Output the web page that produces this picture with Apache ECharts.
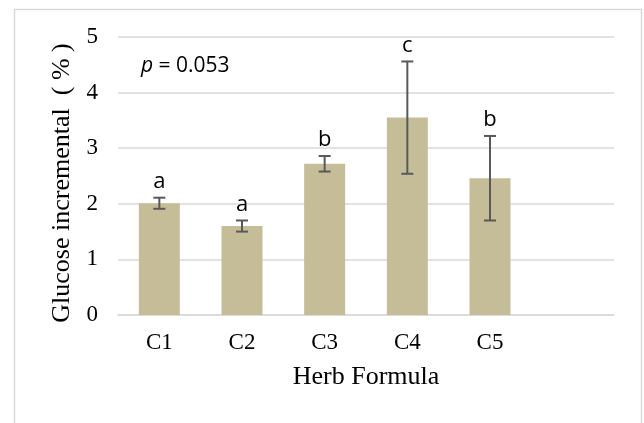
<!DOCTYPE html>
<html>
<head>
<meta charset="utf-8">
<script src="https://cdn.jsdelivr.net/npm/echarts@6/dist/echarts.min.js"></script>
<style>html,body{margin:0;padding:0;background:#fff;}#c{width:644px;height:423px;}</style>
</head>
<body>
<div id="c"></div>
<script>
var categories = ['C1', 'C2', 'C3', 'C4', 'C5', ''];
var means = [2.01, 1.60, 2.72, 3.55, 2.46];
var errors = [0.10, 0.10, 0.14, 1.01, 0.76];
var letters = ['a', 'a', 'b', 'c', 'b'];
var yTicks = [0, 1, 2, 3, 4, 5];
var pText = '= 0.053';

var chart = echarts.init(document.getElementById('c'));
var errData = means.map(function (m, i) { return [i, m, errors[i]]; });

chart.setOption({
  animation: false,
  backgroundColor: '#fff',
  grid: { left: 118, right: 30, top: 37, bottom: 108 },
  xAxis: {
    type: 'category',
    data: categories,
    axisTick: { show: false },
    axisLine: { show: true, lineStyle: { color: '#d9d9d9', width: 1.5 } },
    axisLabel: { color: '#000', fontFamily: 'Liberation Serif', fontSize: 23, margin: 16 },
    name: 'Herb Formula',
    nameLocation: 'middle',
    nameGap: 49,
    nameTextStyle: { color: '#000', fontFamily: 'Liberation Serif', fontSize: 26 }
  },
  yAxis: {
    type: 'value',
    min: yTicks[0],
    max: yTicks[yTicks.length - 1],
    interval: 1,
    axisLine: { show: false },
    axisTick: { show: false },
    splitLine: { lineStyle: { color: '#d9d9d9', width: 1.5 } },
    axisLabel: { color: '#000', fontFamily: 'Liberation Serif', fontSize: 23, margin: 20 },
    name: 'Glucose incremental  ( % )',
    nameLocation: 'middle',
    nameRotate: 90,
    nameGap: 41,
    nameTextStyle: { color: '#000', fontFamily: 'Liberation Serif', fontSize: 26, padding: [0, 14, 0, 0] }
  },
  series: [
    {
      type: 'bar',
      data: means,
      barWidth: 41,
      itemStyle: { color: '#C4BD97' }
    },
    {
      type: 'custom',
      data: errData,
      z: 5,
      renderItem: function (params, api) {
        var i = api.value(0);
        var m = api.value(1);
        var e = api.value(2);
        var top = api.coord([i, m + e]);
        var bot = api.coord([i, m - e]);
        var x = top[0];
        var hw = 6;
        var st = { stroke: '#595959', lineWidth: 2 };
        return {
          type: 'group',
          children: [
            { type: 'line', shape: { x1: x, y1: top[1], x2: x, y2: bot[1] }, style: st },
            { type: 'line', shape: { x1: x - hw, y1: top[1], x2: x + hw, y2: top[1] }, style: st },
            { type: 'line', shape: { x1: x - hw, y1: bot[1], x2: x + hw, y2: bot[1] }, style: st },
            { type: 'text', style: { text: letters[params.dataIndex], x: x, y: top[1] - 5, align: 'center', verticalAlign: 'bottom', fill: '#000', font: '22px "Open Sans"' } }
          ]
        };
      }
    }
  ],
  graphic: [
    { type: 'rect', shape: { x: 14.5, y: 9.5, width: 627, height: 440 }, style: { fill: 'none', stroke: '#d9d9d9', lineWidth: 1.5 }, silent: true },
    { type: 'text', x: 141, y: 66, style: { text: '{i|p} ' + pText, verticalAlign: 'middle', fill: '#000', font: '21px "Open Sans"', rich: { i: { fontStyle: 'italic', fontSize: 21, fontFamily: 'Open Sans' } } } }
  ]
});
</script>
</body>
</html>
